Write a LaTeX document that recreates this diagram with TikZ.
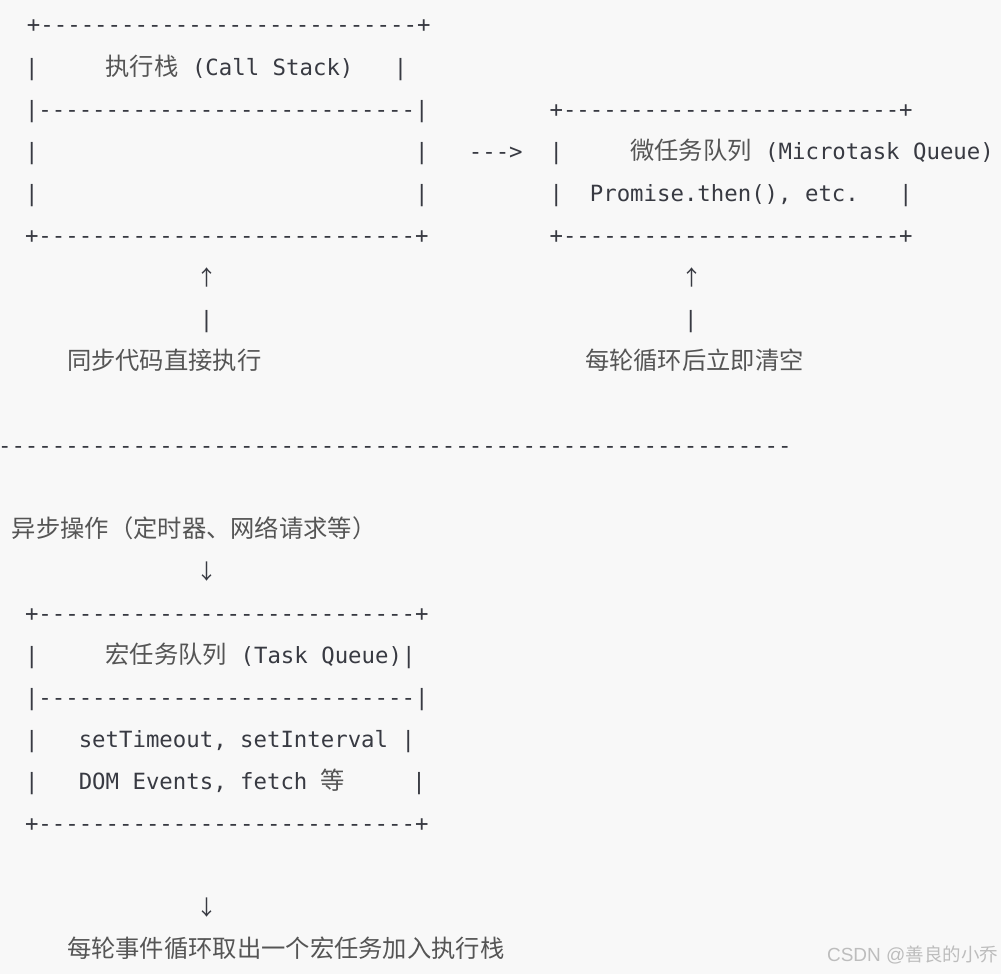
\documentclass[tikz,border=0pt]{standalone}
\usepackage{fontspec}
\newfontfamily\monof{DejaVu Sans Mono}
\newfontfamily\cjkf{Noto Sans CJK SC}
\newfontfamily\wmlat{Liberation Sans}
\ExplSyntaxOn
\cs_new:Npn \RepStr #1#2 { \prg_replicate:nn {#1} {#2} }
\ExplSyntaxOff
\definecolor{bg}{HTML}{F8F8F8}
\definecolor{ink}{HTML}{383A42}
\definecolor{cjkink}{HTML}{555555}
\definecolor{wmink}{HTML}{BDBDBD}
\newcommand\C[1]{{\fontsize{24.3pt}{28pt}\selectfont\cjkf\color{cjkink}#1}}
\newcommand\SP[1]{\RepStr{#1}{\ }}
\newcommand\DS[1]{\RepStr{#1}{-{}}}
\newcommand\wmcjk[1]{{\fontsize{18.5pt}{22pt}\selectfont\cjkf #1}}
\begin{document}
\begin{tikzpicture}[x=1pt,y=-1pt,
  row/.style={anchor=base west,inner sep=0pt,outer sep=0pt,text=ink,
    font=\fontsize{22.34pt}{26pt}\selectfont\monof\frenchspacing},
  cjkrow/.style={anchor=base west,inner sep=0pt,outer sep=0pt,text=cjkink,
    font=\fontsize{24.3pt}{28pt}\selectfont\cjkf},
  arrowglyph/.style={anchor=base,inner sep=0pt,outer sep=0pt,text=ink,
    font=\fontsize{21pt}{24pt}\selectfont\cjkf},
  wmark/.style={anchor=base east,inner sep=0pt,outer sep=0pt,text=wmink,
    font=\fontsize{19pt}{22pt}\selectfont\wmlat}]
\fill[bg] (0,0) rectangle (1001,974);
\useasboundingbox (0,0) rectangle (1001,974);
% Call stack box
\node[row] (cs1) at (27,33) {+\DS{28}+};
\node[row] (cs2) at (25,75) {|\SP5\C{执行栈} (Call Stack)\SP3|};
\node[row] (cs3) at (25,117) {|\DS{28}|};
\node[row] (cs4) at (25,159) {|\SP{28}|};
\node[row] (cs5) at (25,201) {|\SP{28}|};
\node[row] (cs6) at (25,243) {+\DS{28}+};
% arrow to microtask queue
\node[row] (arr) at (468.85,159) {-{}-{}->};
% Microtask queue box
\node[row] (mq1) at (549.55,117) {+\DS{25}+};
\node[row] (mq2) at (549.55,159) {|\SP5\C{微任务队列} (Microtask Queue)};
\node[row] (mq3) at (549.55,201) {|\SP2Promise.then(), etc.\SP3|};
\node[row] (mq4) at (549.55,243) {+\DS{25}+};
% up arrows and labels
\node[arrowglyph] (up1) at (207.3,285) {↑};
\node[row] (up1s) at (199.85,327) {|};
\node[arrowglyph] (up2) at (692.3,285) {↑};
\node[row] (up2s) at (684.05,327) {|};
\node[cjkrow] (lbl1) at (67,369) {同步代码直接执行};
\node[cjkrow] (lbl2) at (585,369) {每轮循环后立即清空};
% separator
\node[row] (sep) at (-1.9,453) {\DS{59}};
% async part
\node[cjkrow] (async) at (12,537) {异步操作（定时器、网络请求等）};
\node[arrowglyph] (down1) at (207.3,579) {↓};
\node[row] (tq1) at (25,621) {+\DS{28}+};
\node[row] (tq2) at (25,663) {|\SP5\C{宏任务队列} (Task Queue)|};
\node[row] (tq3) at (25,705) {|\DS{28}|};
\node[row] (tq4) at (25,747) {|\SP3setTimeout, setInterval |};
\node[row] (tq5) at (25,789) {|\SP3DOM Events, fetch \C{等}\SP5|};
\node[row] (tq6) at (25,831) {+\DS{28}+};
\node[arrowglyph] (down2) at (207.3,915) {↓};
\node[cjkrow] (lbl3) at (67,957) {每轮事件循环取出一个宏任务加入执行栈};
% watermark
\node[wmark] (wm) at (998,961) {CSDN @\wmcjk{善良的小乔}};
\end{tikzpicture}
\end{document}
